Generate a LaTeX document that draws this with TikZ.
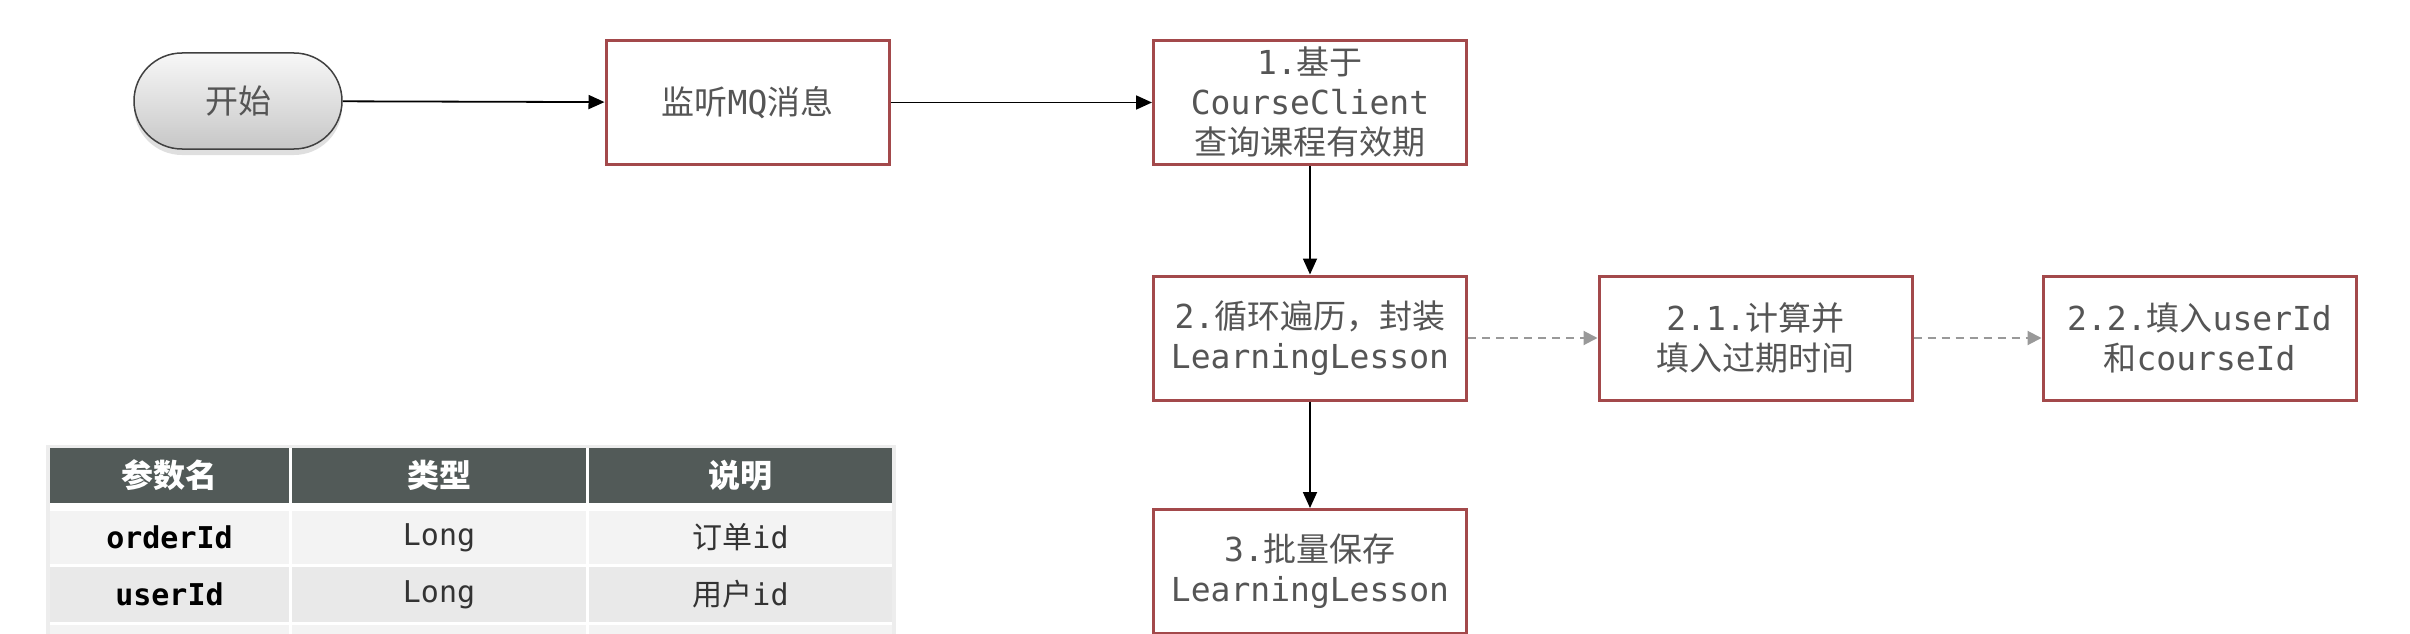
\documentclass[tikz,border=0pt]{standalone}
\usepackage{fontspec}
\setmainfont{DejaVu Sans Mono}
\newfontfamily\cj{Noto Sans CJK SC}
\usetikzlibrary{arrows.meta,shadows}
\definecolor{boxred}{HTML}{A3494B}
\definecolor{txtgray}{HTML}{555555}
\definecolor{hdr}{HTML}{525A58}
\definecolor{rowa}{HTML}{F3F3F3}
\definecolor{rowb}{HTML}{E9E9E9}
\definecolor{celltxt}{HTML}{333333}
\begin{document}
\begin{tikzpicture}[x=1pt,y=-1pt,
  flowbox/.style={draw=boxred, line width=3pt, minimum width=313pt, minimum height=124pt,
    align=center, text=txtgray, font=\fontsize{33}{40}\selectfont, inner sep=0pt},
  startnode/.style={draw=black!75, line width=1.5pt, rounded corners=48pt,
    top color=black!3, bottom color=black!22, minimum width=208pt, minimum height=96pt,
    text=txtgray, font=\fontsize{33}{40}\selectfont\cj, inner sep=0pt,
    drop shadow={opacity=0.25, shadow xshift=0pt, shadow yshift=-6pt}},
  flowarrow/.style={-{Triangle[length=16pt,width=14pt]}, line width=1.8pt, black},
  dasharrow/.style={-{Triangle[length=14pt,width=14pt]}, line width=2pt, black!40,
    dash pattern=on 8pt off 6pt},
  hcell/.style={fill=hdr, text=white, inner sep=0pt, font=\fontsize{32}{38}\selectfont\bfseries\cj},
  cellA/.style={fill=rowa, inner sep=0pt, font=\fontsize{30}{36}\selectfont},
  cellB/.style={fill=rowb, inner sep=0pt, font=\fontsize{30}{36}\selectfont},
  w1/.style={minimum width=239pt}, w2/.style={minimum width=294pt}, w3/.style={minimum width=303pt}
]
\useasboundingbox (0,0) rectangle (2410,634);
\fill[white] (0,0) rectangle (2410,634);

% flow nodes
\node[startnode] (start) at (238,101) {开始};
\node[flowbox,minimum width=283pt] (mq) at (747.5,102.5) {{\cj 监听}MQ{\cj 消息}};
\node[flowbox] (s1) at (1310,102.5) {1.{\cj 基于}\\CourseClient\\{\cj 查询课程有效期}};
\node[flowbox] (s2) at (1310,338) {2.{\cj 循环遍历，封装}\\LearningLesson};
\node[flowbox] (s21) at (1755.5,338) {2.1.{\cj 计算并}\\{\cj 填入过期时间}};
\node[flowbox] (s22) at (2199.5,338) {2.2.{\cj 填入}userId\\{\cj 和}courseId};
\node[flowbox] (s3) at (1310,571.5) {3.{\cj 批量保存}\\LearningLesson};

\draw[flowarrow] (start) -- (mq);
\draw[flowarrow] (mq) -- (s1);
\draw[flowarrow] (s1) -- (s2);
\draw[flowarrow] (s2) -- (s3);
\draw[dasharrow] (s2) -- (s21);
\draw[dasharrow] (s21) -- (s22);

% table
\fill[black!7] (46,445) rectangle (896,640);
\fill[white] (50,448) rectangle (892,640);
\node[hcell,w1,minimum height=55pt] (h1) at (169.5,475.5) {参数名};
\node[hcell,w2,minimum height=55pt] (h2) at (439,475.5) {类型};
\node[hcell,w3,minimum height=55pt] (h3) at (740.5,475.5) {说明};
\node[cellA,w1,minimum height=53pt] (a1) at (169.5,537.5) {\bfseries orderId};
\node[cellA,w2,minimum height=53pt,text=celltxt] (a2) at (439,537.5) {Long};
\node[cellA,w3,minimum height=53pt,text=celltxt] (a3) at (740.5,537.5) {{\cj 订单}id};
\node[cellB,w1,minimum height=55pt] (b1) at (169.5,594.5) {\bfseries userId};
\node[cellB,w2,minimum height=55pt,text=celltxt] (b2) at (439,594.5) {Long};
\node[cellB,w3,minimum height=55pt,text=celltxt] (b3) at (740.5,594.5) {{\cj 用户}id};
\node[cellA,w1,minimum height=20pt] (c1) at (169.5,635) {};
\node[cellA,w2,minimum height=20pt] (c2) at (439,635) {};
\node[cellA,w3,minimum height=20pt] (c3) at (740.5,635) {};
\end{tikzpicture}
\end{document}
